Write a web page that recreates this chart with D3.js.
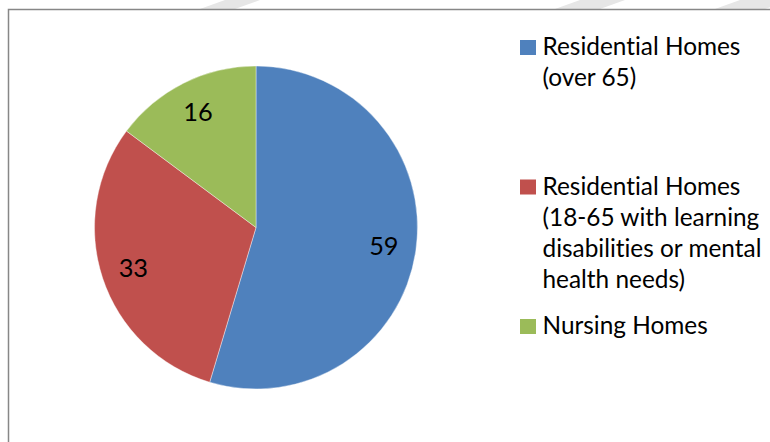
<!DOCTYPE html>
<html>
<head>
<meta charset="utf-8">
<script src="https://cdn.jsdelivr.net/npm/d3@7"></script>
<style>
  html, body { margin: 0; padding: 0; background: #fff; }
  svg { display: block; }
  text { font-variant-ligatures: none; font-feature-settings: "liga" 0, "clig" 0; }
</style>
</head>
<body>
<svg id="chart" width="770" height="442"></svg>
<script>
// ---- data ----
const categories = [
  "Residential Homes (over 65)",
  "Residential Homes (18-65 with learning disabilities or mental health needs)",
  "Nursing Homes"
];
const values = [59, 33, 16];
const colors = ["#4F81BD", "#C0504D", "#9BBB59"];

// ---- layout ----
const W = 770, H = 442;
const cx = 256, cy = 227.5, R = 161.5;
const fontFamily = "Lato, 'Open Sans', 'Liberation Sans', sans-serif";

const svg = d3.select("#chart");

// faint watermark shapes at the top edge (outside the plot frame)
const wm = svg.append("g").attr("fill", "#e6e6e6");
[[200, 260], [555, 625], [715, 790]].forEach(([a, b]) => {
  wm.append("path").attr("d", `M${a},9 L${a + 25},0 L${b},0 L${b - 25},9 Z`);
});

// chart frame
svg.append("rect")
  .attr("x", 8.5).attr("y", 9.5)
  .attr("width", 820).attr("height", 500)
  .attr("fill", "#fff")
  .attr("stroke", "#878787").attr("stroke-width", 1.5);

// fit font size to reference text width
const probe = svg.append("text").attr("font-family", fontFamily)
  .attr("font-size", 100).text("Residential Homes");
const probeW = probe.node().getComputedTextLength();
probe.remove();
const fs = 100 * 198 / probeW;

// ---- pie ----
const pie = d3.pie().sort(null).value(d => d);
const arcs = pie(values);
const arc = d3.arc().innerRadius(0).outerRadius(R);
const labelArc = d3.arc().innerRadius(R * 0.8).outerRadius(R * 0.8);

const g = svg.append("g").attr("transform", `translate(${cx},${cy})`);
g.selectAll("path.slice")
  .data(arcs)
  .join("path")
  .attr("class", "slice")
  .attr("d", arc)
  .attr("fill", (d, i) => colors[i])
  .attr("stroke", "#ffffff")
  .attr("stroke-width", 0.4);

g.selectAll("text.lbl")
  .data(arcs)
  .join("text")
  .attr("class", "lbl")
  .attr("transform", d => `translate(${labelArc.centroid(d)})`)
  .attr("text-anchor", "middle")
  .attr("dy", "0.36em")
  .attr("font-family", fontFamily)
  .attr("font-size", fs * 1.04)
  .attr("fill", "#000")
  .text(d => d.data);

// ---- legend ----
const legendTop = 40, legendStep = 139.5, lineH = 31, swatch = 15;
const legendX = 520, textX = 542.5, maxLineW = 240;

function wrap(str) {
  const t = svg.append("text").attr("font-family", fontFamily).attr("font-size", fs);
  const words = str.split(" ");
  const lines = [];
  let cur = "";
  words.forEach(w => {
    const test = cur ? cur + " " + w : w;
    t.text(test);
    if (t.node().getComputedTextLength() > maxLineW && cur) {
      lines.push(cur);
      cur = w;
    } else {
      cur = test;
    }
  });
  if (cur) lines.push(cur);
  t.remove();
  return lines;
}

const legend = svg.append("g");
categories.forEach((name, i) => {
  const top = legendTop + i * legendStep;
  legend.append("rect")
    .attr("x", legendX).attr("y", top)
    .attr("width", swatch + 1).attr("height", swatch)
    .attr("fill", colors[i]);
  const txt = legend.append("text")
    .attr("font-family", fontFamily)
    .attr("font-size", fs)
    .attr("fill", "#000");
  wrap(name).forEach((line, j) => {
    txt.append("tspan")
      .attr("x", textX)
      .attr("y", top + swatch + j * lineH)
      .text(line);
  });
});
</script>
</body>
</html>
